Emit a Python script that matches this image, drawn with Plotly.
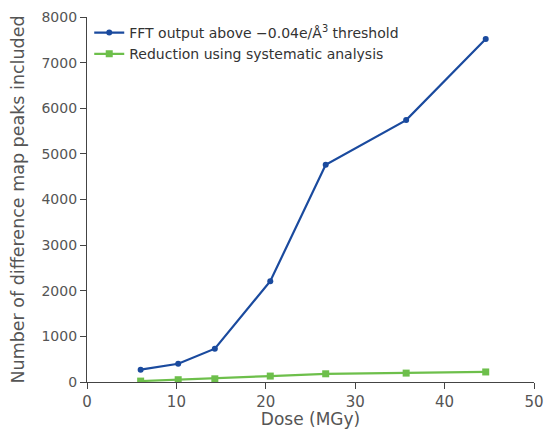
import plotly.graph_objects as go

dose = [6.0, 10.2, 14.3, 20.5, 26.7, 35.7, 44.6]
fft_peaks = [270, 400, 730, 2210, 4760, 5740, 7520]
reduced_peaks = [20, 50, 70, 130, 180, 195, 220]

font_family = "DejaVu Sans, Liberation Sans, sans-serif"
grey = "#555555"

fig = go.Figure()
fig.add_trace(go.Scatter(
    x=dose, y=fft_peaks, mode="lines+markers",
    name="FFT output above \u22120.04e/\u00c5<sup>3</sup> threshold",
    line=dict(color="#1a4a9e", width=2.2),
    marker=dict(symbol="circle", size=6, color="#1a4a9e"),
))
fig.add_trace(go.Scatter(
    x=dose, y=reduced_peaks, mode="lines+markers",
    name="Reduction using systematic analysis",
    line=dict(color="#6dbf4b", width=2.2),
    marker=dict(symbol="square", size=7, color="#6dbf4b"),
))

fig.update_layout(
    width=544, height=429,
    margin=dict(l=87, r=10, t=17, b=47),
    paper_bgcolor="white", plot_bgcolor="white",
    font=dict(family=font_family, color=grey, size=14),
    showlegend=True,
    legend=dict(x=0.005, y=1.0, xanchor="left", yanchor="top",
                bgcolor="rgba(0,0,0,0)", font=dict(size=14, color="#333333"),
                itemwidth=30, tracegroupgap=0),
    xaxis=dict(range=[0, 50], dtick=10, showgrid=False, zeroline=False,
               showline=True, linecolor="#444444", linewidth=1.2,
               ticks="outside", ticklen=6, tickcolor="#444444", automargin=False,
               title=dict(text="Dose (MGy)", standoff=0, font=dict(size=17)),
               tickfont=dict(size=15)),
    yaxis=dict(range=[0, 8000], dtick=1000, showgrid=False, zeroline=False,
               showline=True, linecolor="#444444", linewidth=1.2,
               ticks="outside", ticklen=6, tickcolor="#444444", automargin=False,
               title=dict(text="Number of difference map peaks included", standoff=12, font=dict(size=17.5)),
               tickfont=dict(size=14)),
)

fig.write_html("out.html", config={"displayModeBar": False},
               post_script="document.body.style.margin='0';document.body.style.overflow='hidden';")
